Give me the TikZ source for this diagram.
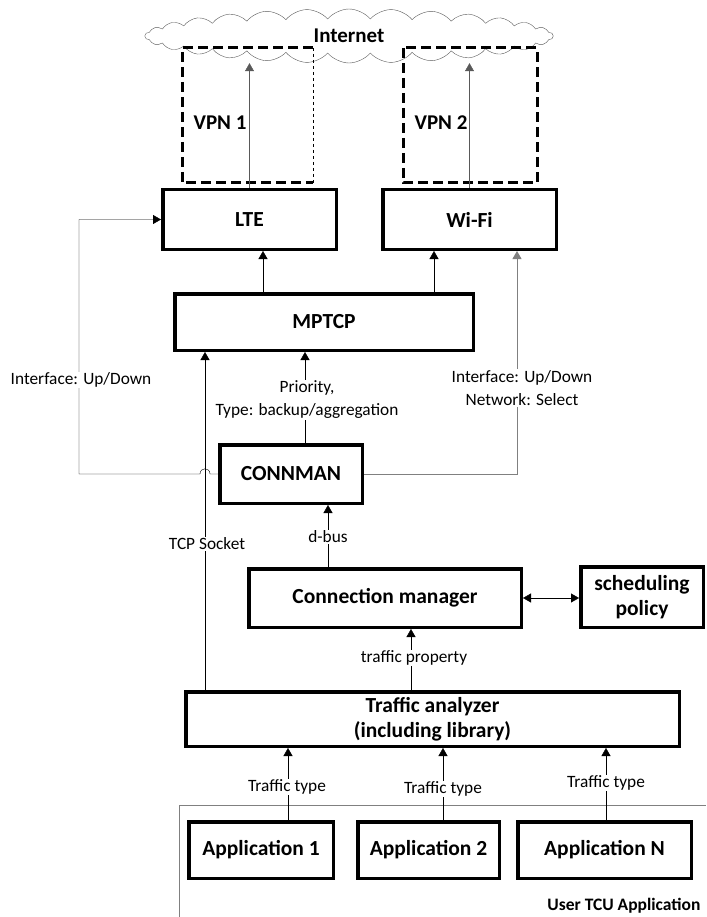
\documentclass[tikz,border=0pt]{standalone}
\usepackage{fontspec}
\setmainfont{Carlito}
\usetikzlibrary{arrows.meta,shapes.symbols}

\begin{document}
\begin{tikzpicture}[x=1pt,y=-1pt,>={Triangle[length=8pt,width=9pt]},
box/.style={draw,line width=3.5pt,inner sep=0pt,align=center,font=\fontsize{21.5}{25}\selectfont\bfseries},
lbl/.style={fill=white,inner sep=1pt,align=center,font=\fontsize{17.3}{23}\selectfont},
big/.style={font=\fontsize{21}{24}\selectfont\bfseries},
vpn/.style={line width=3pt,dash pattern=on 10pt off 5pt}]
\useasboundingbox(0,0)rectangle(706,917);
\node[cloud,cloud puffs=30,cloud puff arc=100,cloud ignores aspect,draw=gray!70!black,minimum width=408,minimum height=54,inner sep=0pt,big](inet)at(349,36){Internet};
\draw[vpn](313,48)-|(182,183)--(313,183);\draw[dashed](313,48)--(313,183);
\draw[vpn](403,48)rectangle(537,183);
\node[big](v1)at(220,123){VPN 1};\node[big](v2)at(441,123){VPN 2};
\node[box,minimum width=173.5,minimum height=59.5](lte)at(249.5,219.5){LTE};
\node[box,minimum width=173.5,minimum height=59.5](wifi)at(469.5,219.5){Wi-Fi};
\node[box,minimum width=298.5,minimum height=56.5](mptcp)at(324,322){MPTCP};
\node[box,minimum width=142.5,minimum height=58.5](connman)at(291,474){CONNMAN};
\node[box,minimum width=272.5,minimum height=58.5](cm)at(385,598){Connection manager};
\node[box,minimum width=122.5,minimum height=60.5](sched)at(642,597){scheduling\\policy};
\node[box,minimum width=493.5,minimum height=54.5](ta)at(432.5,719){Traffic analyzer\\(including library)};
\draw[gray](179,917)|-(706,805);
\node[box,minimum width=144.5,minimum height=56.5](app1)at(261,850){Application 1};
\node[box,minimum width=141.5,minimum height=56.5](app2)at(428.5,850){Application 2};
\node[box,minimum width=173.5,minimum height=56.5](appn)at(604.5,850){Application N};
\coordinate(xa)at(263,0);\coordinate(xb)at(434,0);\coordinate(xt)at(205,0);\coordinate(xp)at(305,0);
\coordinate(xl)at(79,0);\coordinate(xr)at(517,0);\coordinate(xd)at(328,0);\coordinate(xq)at(411,0);
\coordinate(xu1)at(288,0);\coordinate(xu2)at(443,0);\coordinate(xu3)at(606,0);\coordinate(hop)at(205,474);
\draw[->,gray!70!black](lte.north)--(lte.north|-inet.south);\draw[->,gray!70!black](wifi.north)--(wifi.north|-inet.south);
\draw[->](mptcp.north-|xa)--(lte.south-|xa);\draw[->](mptcp.north-|xb)--(wifi.south-|xb);
\draw[->](ta.north-|xt)--(mptcp.south-|xt);\draw[->](connman.north-|xp)--(mptcp.south-|xp);
\draw[->,gray,line width=1pt](connman.east)-|(wifi.south-|xr);
\draw[->](connman.west)--([xshift=5pt]hop)..controls([xshift=5pt,yshift=7pt]hop)and([xshift=-5pt,yshift=7pt]hop)..([xshift=-5pt]hop)--(hop-|xl)|-(lte.west);
\draw[->](cm.north-|xd)--(connman.south-|xd);\draw[<->](cm.east)--(cm.east-|sched.west);
\draw[->](ta.north-|xq)--(cm.south-|xq);
\draw[->](app1.north-|xu1)--(ta.south-|xu1);\draw[->](app2.north-|xu2)--(ta.south-|xu2);\draw[->](appn.north-|xu3)--(ta.south-|xu3);
\node[lbl](ifl)at(81,380){Interface: Up/Down};\node[lbl](tcps)at(207,544){TCP Socket};
\node[lbl](prio)at(307,400){Priority,\\Type: backup/aggregation};\node[lbl](ifr)at(522,388){Interface: Up/Down\\Network: Select};
\node[lbl](dbus)at(328,537){d-bus};\node[lbl](tprop)at(414,658){traffic property};
\node[lbl](tt1)at(287,787){Traffic type};\node[lbl](tt2)at(443,789){Traffic type};\node[lbl](tt3)at(606,783){Traffic type};
\node[anchor=east,font=\fontsize{17.5}{20}\selectfont\bfseries](user)at(704,906){User TCU Application};
\end{tikzpicture}
\end{document}
